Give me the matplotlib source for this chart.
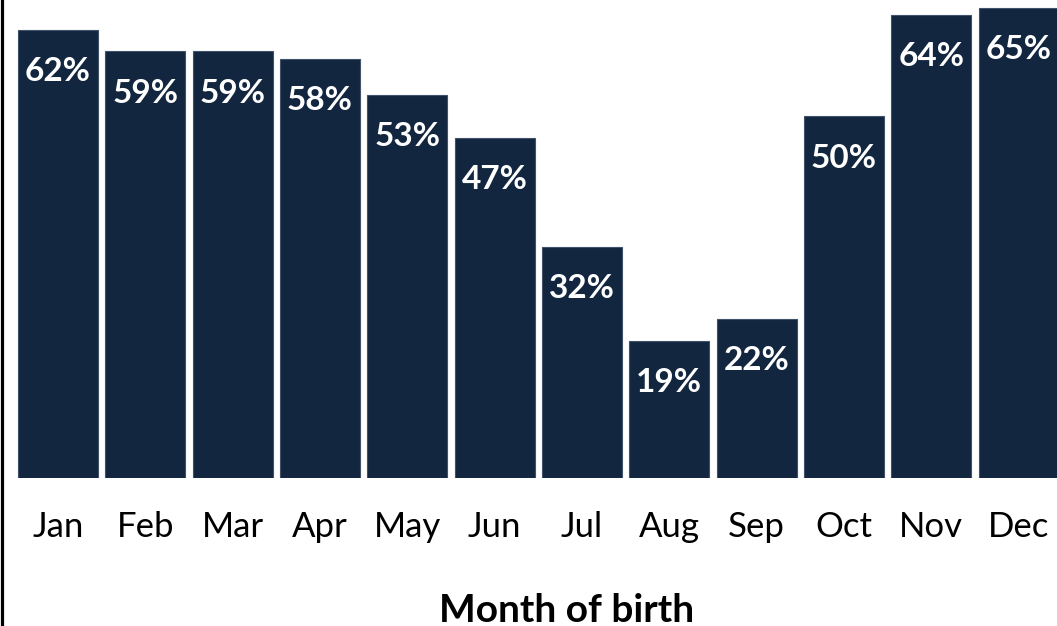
import numpy as np
import matplotlib.pyplot as plt
from matplotlib.lines import Line2D

# data
months = ["Jan", "Feb", "Mar", "Apr", "May", "Jun", "Jul", "Aug", "Sep", "Oct", "Nov", "Dec"]
share = [62, 59, 59, 58, 53, 47, 32, 19, 22, 50, 64, 65]

barColor = '#12263f'
labelFont = {'family': 'Lato', 'size': 24, 'weight': 'bold', 'color': 'white'}
tickFont = {'family': 'Lato', 'size': 25}

fig = plt.figure(figsize=(10.57, 6.26), dpi=100)
ax = fig.add_axes([0, 148/626, 1, 478/626])

x = np.arange(len(months))
bars = ax.bar(x, share, width=0.916, color=barColor, edgecolor='#40526a', linewidth=0.8)

for xi, v in zip(x, share):
    ax.annotate(f"{v}%", xy=(xi, v), xytext=(0, -30), textcoords='offset points',
                ha='center', va='center', **labelFont)

ax.set_xlim(-0.664, 11.44)
ax.set_ylim(0, 66.1)
ax.set_xticks(x)
ax.set_xticklabels(months, **tickFont)
ax.tick_params(axis='x', length=0, pad=24)
ax.set_yticks([])
for s in ax.spines.values():
    s.set_visible(False)

fig.text(567/1057, 1 - 610/626, "Month of birth", ha='center', va='center',
         family='Lato', size=28, weight='bold')

# black line down the left edge
fig.add_artist(Line2D([0.0015, 0.0015], [0, 1], transform=fig.transFigure, color='black', lw=2.3))

fig.savefig('out.png', dpi=100)
